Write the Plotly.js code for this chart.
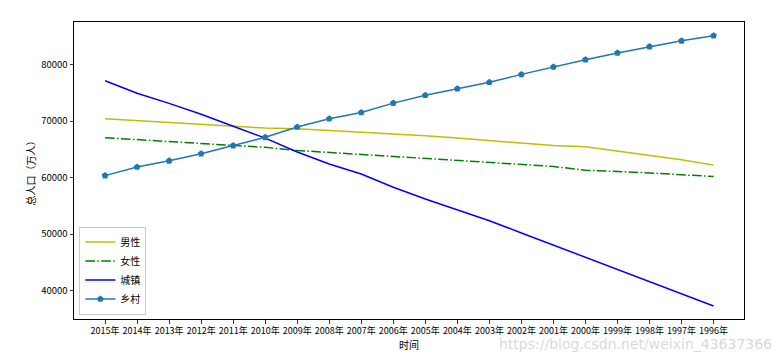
<!DOCTYPE html>
<html>
<head>
<meta charset="utf-8">
<script src="https://cdn.plot.ly/plotly-3.0.1.min.js"></script>
<style>html,body{margin:0;padding:0;background:#fff;}#chart{width:776px;height:358px;}</style>
</head>
<body>
<div id="chart"></div>
<script>
const years = ["2015年","2014年","2013年","2012年","2011年","2010年","2009年","2008年","2007年","2006年","2005年","2004年","2003年","2002年","2001年","2000年","1999年","1998年","1997年","1996年"];
const male = [70414,70079,69728,69395,69068,68748,68647,68357,68048,67728,67375,66976,66556,66115,65672,65437,64692,63940,63131,62200];
const female = [67048,66703,66344,66009,65667,65343,64803,64453,64081,63720,63381,63012,62671,62338,61955,61306,61094,60821,60495,60189];
const urban = [77116,74916,73111,71182,69079,66978,64512,62403,60633,58288,56212,54283,52376,50212,48064,45906,43748,41608,39449,37304];
const rural = [60346,61866,62961,64222,65656,67113,68938,70399,71496,73160,74544,75705,76851,78241,79563,80837,82038,83153,84177,85085];
const seriesNames = ["男性","女性","城镇","乡村"];
const yTicks = [40000,50000,60000,70000,80000];

const font = "Noto Sans CJK SC, DejaVu Sans, sans-serif";
const xIdx = years.map((_, i) => i);

const traces = [
  {x: xIdx, y: male, name: seriesNames[0], mode: "lines", line: {color: "#bfbf00", width: 1.5}},
  {x: xIdx, y: female, name: seriesNames[1], mode: "lines", line: {color: "#008000", width: 1.5, dash: "9.6px,2.4px,1.5px,2.4px"}},
  {x: xIdx, y: urban, name: seriesNames[2], mode: "lines", line: {color: "#0000ff", width: 1.5}},
  {x: xIdx, y: rural, name: seriesNames[3], mode: "lines+markers", line: {color: "#1f77b4", width: 1.5}, marker: {symbol: "pentagon", size: 7, color: "#1f77b4"}}
];

const layout = {
  width: 776, height: 358,
  margin: {l: 74, r: 32, t: 22, b: 39, pad: 0},
  paper_bgcolor: "#fff", plot_bgcolor: "#fff",
  font: {family: font, size: 10, color: "#000"},
  showlegend: true,
  legend: {x: 0.008, y: 0.015, xanchor: "left", yanchor: "bottom", bgcolor: "rgba(255,255,255,0.8)", bordercolor: "#cccccc", borderwidth: 1, font: {family: font, size: 10}, tracegroupgap: 0, itemwidth: 30},
  xaxis: {
    range: [-0.97, 19.95],
    tickmode: "array", tickvals: xIdx, ticktext: years,
    ticks: "outside", ticklen: 3.5, tickwidth: 0.8, tickcolor: "#000",
    showgrid: false, zeroline: false,
    showline: true, linecolor: "#000", linewidth: 1, mirror: true,
    tickfont: {family: font, size: 9}, tickangle: 0,
    title: {text: "时间", font: {family: font, size: 10}, standoff: 5}
  },
  yaxis: {
    range: [35000, 87500],
    tickmode: "array", tickvals: yTicks, ticktext: yTicks.map(String),
    ticks: "outside", ticklen: 3.5, tickwidth: 0.8, tickcolor: "#000",
    showgrid: false, zeroline: false,
    showline: true, linecolor: "#000", linewidth: 1, mirror: true,
    tickfont: {family: font, size: 9.5},
    title: {text: "总人口（万人）", font: {family: font, size: 10}, standoff: 3}
  },
  annotations: [
    {text: "https://blog.csdn.net/weixin_43637366", xref: "paper", yref: "paper", x: 1.045, y: -0.085, xanchor: "right", yanchor: "middle", showarrow: false, font: {family: "DejaVu Sans, sans-serif", size: 14, color: "rgba(200,200,200,0.7)"}}
  ]
};

Plotly.newPlot("chart", traces, layout, {displayModeBar: false, staticPlot: true});
</script>
</body>
</html>
